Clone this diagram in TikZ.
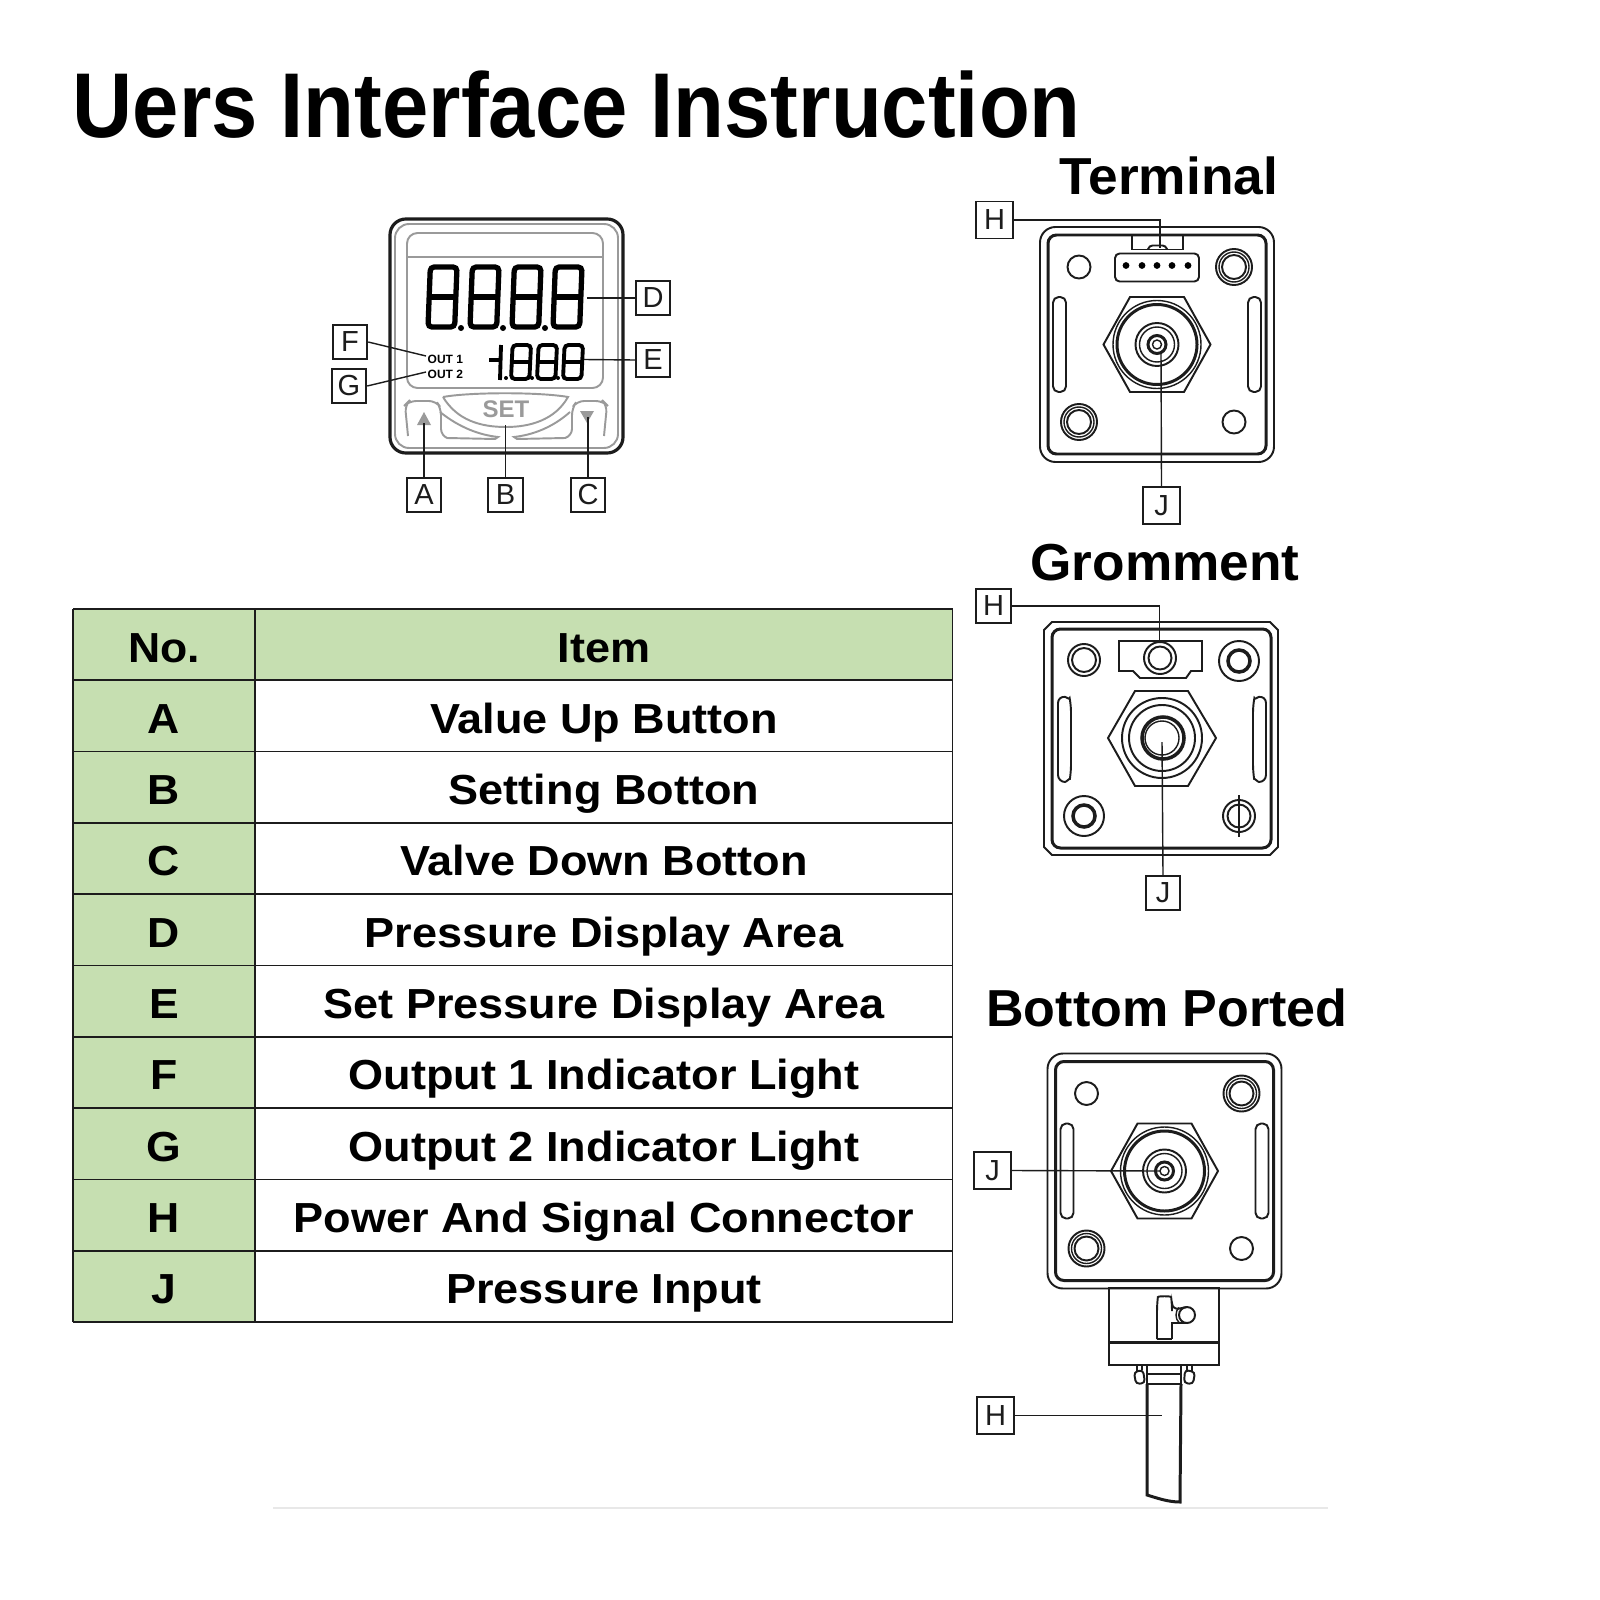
\documentclass[tikz,border=0pt]{standalone}
\usepackage{fontspec}
\usepackage{graphicx}
\setmainfont{Liberation Sans}
\definecolor{ink}{HTML}{1C1C1C}
\definecolor{soft}{HTML}{9A9A9A}
\definecolor{tgreen}{HTML}{C6DFB1}
\newcommand{\pxfont}[1]{\fontsize{\dimexpr #1\dimexpr 0.28453pt\relax\relax}{\dimexpr #1\dimexpr 0.34pt\relax\relax}\selectfont}
\tikzset{
  lbl/.style={draw=ink,line width=0.55pt,fill=white,minimum size=0.345cm,inner sep=0pt,font=\pxfont{29}\color{ink}},
  lead/.style={draw=ink,line width=0.4pt},
  thn/.style={draw=ink,line width=0.4pt},
  med/.style={draw=ink,line width=0.55pt},
  thk/.style={draw=ink,line width=0.85pt},
  rule/.style={draw=ink,line width=0.5pt},
  seg/.style={draw=black,line width=1.1pt,rounded corners=1.1pt},
  sft/.style={draw=soft,line width=0.55pt},
  title/.style={inner sep=0pt,anchor=base,font=\pxfont{52}\bfseries},
  cell/.style={inner sep=0pt,anchor=base,font=\pxfont{42}\bfseries},
}
% one seven-segment figure: left, top, width, height
\newcommand{\figeight}[4]{%
  \draw[seg] (#1+0.08*#3,#2) -- (#1+#3,#2) -- (#1+0.92*#3,#2+#4) -- (#1,#2+#4) -- cycle;
  \draw[seg] (#1+0.04*#3,#2+0.5*#4) -- (#1+0.96*#3,#2+0.5*#4);
}
% plain hole and screw
\newcommand{\holeplain}[2]{\draw[med] (#1,#2) circle[radius=11.5];}
\newcommand{\holescrew}[2]{%
  \draw[med] (#1,#2) circle[radius=18];
  \draw[thn] (#1,#2) circle[radius=15];
  \draw[med] (#1,#2) circle[radius=12];
}
\newcommand{\slotpair}[3]{%
  \draw[med,rounded corners=1.6pt] (-#1-#2,-#3) rectangle (-#1,#3);
  \draw[med,rounded corners=1.6pt] (#1,-#3) rectangle (#1+#2,#3);
}
% plate of the Terminal and Bottom Ported views, centred on the origin of its scope
\newcommand{\platebody}{%
  \draw[med,rounded corners=4.4pt] (-117,-117.5) rectangle (117,117.5);
  \draw[thk,rounded corners=2.4pt] (-109,-109.5) rectangle (109,109.5);
  \holeplain{-78}{-77.5}\holeplain{77}{77.5}
  \holescrew{77}{-77.5}\holescrew{-78}{77.5}
  \slotpair{91}{13}{47.5}
  \draw[med] (-53.5,0) -- (-27,-47.5) -- (27,-47.5) -- (53.5,0) -- (27,47.5) -- (-27,47.5) -- cycle;
  \draw[thn] (0,0) circle[radius=44];
  \draw[thk] (0,0) circle[radius=40];
  \draw[med] (0,0) circle[radius=21.5];
  \draw[thn] (0,0) circle[radius=17.5];
  \draw[thk] (0,0) circle[radius=9];
  \draw[thn] (0,0) circle[radius=4.5];
}
\begin{document}
\begin{tikzpicture}[x=0.01cm,y=-0.01cm]
\useasboundingbox (0,0) rectangle (1600,1600);
\fill[white] (0,0) rectangle (1600,1600);

% title
\node[inner sep=0pt,anchor=base west,font=\pxfont{92}\bfseries] (maintitle) at (72,138) {\scalebox{0.904}[1]{Uers Interface Instruction}};
\node[title] (tterm) at (1169,195) {\scalebox{1.024}[1]{Terminal}};
\node[title] (tgrom) at (1165,580) {\scalebox{1.023}[1]{Gromment}};
\node[title] (tbott) at (1167,1026) {Bottom Ported};

% table
\fill[tgreen] (73,609) rectangle (255,1322);
\fill[tgreen] (255,609) rectangle (952.5,680);
\foreach \yy in {609,680.3,751.6,822.9,894.2,965.5,1036.8,1108.1,1179.4,1250.7,1322}
  \draw[rule] (73,\yy) -- (952.5,\yy);
\foreach \xx in {73,255,952.5}
  \draw[rule] (\xx,609) -- (\xx,1322);
\foreach \k/\aa/\bb in {0/No./Item,1/A/Value Up Button,2/B/Setting Botton,3/C/Valve Down Botton,4/D/Pressure Display Area,5/E/Set Pressure Display Area,6/F/Output 1 Indicator Light,7/G/Output 2 Indicator Light,8/H/Power And Signal Connector,9/J/Pressure Input}{
  \node[cell] (no\k) at (164,662+71.3*\k) {\scalebox{1.06}[1]{\aa}};
  \node[cell] (it\k) at (604,662+71.3*\k) {\scalebox{1.072}[1]{\bb}};
}

% front panel
\draw[draw=ink,rounded corners=4.5pt,line width=0.9pt] (390,219) rectangle (623,453);
\draw[sft,rounded corners=4pt] (395,224) rectangle (618,448);
\draw[sft,rounded corners=3pt] (407,233) rectangle (603,388);
\draw[sft] (407,257) -- (603,257);
\begin{scope}[seg/.append style={line width=1.5pt}]
\figeight{428}{267}{29}{60}
\figeight{470}{267}{29}{60}
\figeight{512}{267}{29}{60}
\figeight{553}{267}{29}{60}
\end{scope}
\foreach \dx in {461,503,545}{\fill[black] (\dx,328) circle[radius=3];}
\figeight{511}{345}{20}{34}
\figeight{537}{345}{20}{34}
\figeight{563}{345}{20}{34}
\draw[black,line width=1.1pt] (489,360) -- (499,360);
\draw[black,line width=1.1pt] (501,345) -- (500,380);
\fill[black] (506,378) circle[radius=2] (532,378) circle[radius=2] (558,378) circle[radius=2];
\node[inner sep=0pt,anchor=base west,font=\pxfont{12}\bfseries] (out1) at (427,363) {OUT 1};
\node[inner sep=0pt,anchor=base west,font=\pxfont{12}\bfseries] (out2) at (427,378) {OUT 2};
% buttons
\draw[sft] (443,397) .. controls (470,392) and (540,392) .. (568,397) .. controls (555,420) and (530,427) .. (506,427) .. controls (480,427) and (457,420) .. (443,397);
\draw[sft] (440,412) .. controls (460,428) and (480,435) .. (498,437) -- (495,439) -- (447,438);
\draw[sft] (570,412) .. controls (552,428) and (532,435) .. (514,437) -- (517,439) -- (565,438);
\draw[sft,rounded corners=2pt] (408,436) -- (405,405) -- (409,401) -- (436,401) -- (441,408) -- (441,436) -- (447,438);
\draw[sft,rounded corners=2pt] (604,436) -- (607,405) -- (603,401) -- (577,401) -- (572,408) -- (572,436) -- (565,438);
\node[inner sep=0pt,anchor=base,font=\pxfont{24}\bfseries\color{soft}] (settxt) at (506,417) {SET};
\fill[soft] (424,412) -- (431,425) -- (417,425) -- cycle;
\fill[soft] (587,423) -- (594,411) -- (580,411) -- cycle;
% callouts of the panel
\node[lbl] (pD) at (653,298) {D};
\node[lbl] (pE) at (653,360) {E};
\node[lbl] (pF) at (350,342) {F};
\node[lbl] (pG) at (349,386) {G};
\node[lbl] (pA) at (424,495) {A};
\node[lbl] (pB) at (505.5,495) {B};
\node[lbl] (pC) at (588,495) {C};
\coordinate (aD) at (587,298);
\coordinate (aE) at (584,359.5);
\coordinate (aF) at (426,356);
\coordinate (aG) at (426,372);
\coordinate (aA) at (424,423);
\coordinate (aB) at (505.5,425);
\coordinate (aC) at (588,417);
\draw[lead] (pD.west) -- (aD);
\draw[lead] (pE.west) -- (aE);
\draw[lead] (pF.east) -- (aF);
\draw[lead] (pG.east) -- (aG);
\draw[lead] (pA.north) -- (aA);
\draw[lead] (pB.north) -- (aB);
\draw[lead] (pC.north) -- (aC);

% Terminal view
\begin{scope}[shift={(1157,344.5)}]
\platebody
\draw[med] (-25,-109.5) -- (-25,-95) -- (26,-95) -- (26,-109.5);
\draw[med,rounded corners=1pt] (-9,-95) -- (-8,-99) -- (9,-99) -- (10,-95);
\draw[med,rounded corners=1.3pt] (-42,-91) rectangle (42,-63);
\foreach \dx in {-31,-15,0,15,31}{\fill[black] (\dx,-79) circle[radius=3.4];}
\end{scope}
\node[lbl,minimum size=0.37cm] (tH) at (994.5,220) {H};
\node[lbl,minimum size=0.37cm] (tJ) at (1161.5,505.5) {J};
\coordinate (eTH) at (1160,248);
\coordinate (eTJ) at (1161,352);
\draw[lead] (tH.east) -| (eTH);
\draw[lead] (tJ.north) -- (eTJ);

% Gromment view
\draw[med] (1052,622) -- (1270,622) -- (1278,630) -- (1278,847) -- (1270,855) -- (1052,855) -- (1044,847) -- (1044,630) -- cycle;
\draw[thk,rounded corners=2.4pt] (1052,629) rectangle (1271,848);
\draw[med] (1119,641) -- (1202,641) -- (1202,671) -- (1191,671) -- (1186,678) -- (1140,678) -- (1133,671) -- (1119,671) -- cycle;
\draw[med] (1160,658) circle[radius=16];
\draw[med] (1160,658) circle[radius=11.5];
\draw[med] (1084,660) circle[radius=16];
\draw[med] (1084,660) circle[radius=12];
\draw[med] (1239,661) circle[radius=20];
\draw[line width=1pt,draw=ink] (1239,661) circle[radius=11];
\draw[med] (1084,816) circle[radius=20];
\draw[line width=1pt,draw=ink] (1084,816) circle[radius=11];
\draw[med] (1239,816) circle[radius=16];
\draw[med] (1239,816) circle[radius=11.5];
\draw[thn] (1239,795) -- (1239,837);
\draw[med,rounded corners=2pt] (1058,696) .. controls (1066,697) and (1070,700) .. (1071,705) -- (1071,772) .. controls (1070,778) and (1066,782) .. (1058,782) -- cycle;
\draw[med,rounded corners=2pt] (1266,696) .. controls (1258,697) and (1254,700) .. (1253,705) -- (1253,772) .. controls (1254,778) and (1258,782) .. (1266,782) -- cycle;
\draw[med] (1108,738) -- (1135,691) -- (1188,691) -- (1216,738) -- (1188,786) -- (1135,786) -- cycle;
\draw[med] (1162,738) circle[radius=40];
\draw[med] (1162,738) circle[radius=33];
\draw[line width=1pt,draw=ink] (1163,738) circle[radius=21];
\draw[thn] (1162,738) circle[radius=17];
\node[lbl] (gH) at (993.5,606) {H};
\node[lbl] (gJ) at (1163,893) {J};
\coordinate (eGH) at (1159.5,643);
\coordinate (eGJ) at (1162,742);
\draw[lead] (gH.east) -| (eGH);
\draw[lead] (gJ.north) -- (eGJ);

% Bottom Ported view
\begin{scope}[shift={(1164.5,1171)}]
\platebody
\end{scope}
\draw[med] (1109,1288) rectangle (1219,1365);
\draw[thk] (1109,1342) -- (1219,1342);
\draw[med,rounded corners=2pt] (1157,1339) -- (1157,1304) .. controls (1158,1296) and (1171,1296) .. (1172,1304) -- (1172,1310) -- (1187,1307);
\draw[med] (1172,1339) -- (1172,1323) -- (1187,1323);
\draw[med] (1157,1339) -- (1172,1339);
\draw[med] (1187,1315) circle[radius=8];
\draw[thn] (1179,1307.5) .. controls (1175,1311) and (1175,1319) .. (1179,1322.5);
\draw[med] (1147,1365) -- (1147,1384) -- (1181,1384) -- (1181,1365);
\draw[med] (1148,1374) -- (1180,1374);
\draw[med,rounded corners=1pt] (1134,1372) -- (1143,1370) -- (1145,1383) -- (1136,1384) -- cycle;
\draw[med,rounded corners=1pt] (1185,1370) -- (1195,1372) -- (1193,1384) -- (1184,1383) -- cycle;
\draw[med] (1137,1365) -- (1137,1371) (1142,1365) -- (1142,1370) (1187,1365) -- (1187,1370) (1192,1365) -- (1192,1371);
\draw[thk] (1147,1384) -- (1147,1495) .. controls (1157,1498) and (1168,1502) .. (1180,1502) -- (1181,1384);
\node[lbl,minimum size=0.375cm] (bJ) at (992.5,1170.5) {J};
\node[lbl,minimum size=0.375cm] (bH) at (995.5,1415.5) {H};
\coordinate (eBJ) at (1160,1171);
\coordinate (eBH) at (1162,1415.5);
\draw[lead] (bJ.east) -- (eBJ);
\draw[lead] (bH.east) -- (eBH);

% faint rule
\draw[draw=black!9,line width=0.5pt] (273,1508) -- (1328,1508);
\end{tikzpicture}
\end{document}
